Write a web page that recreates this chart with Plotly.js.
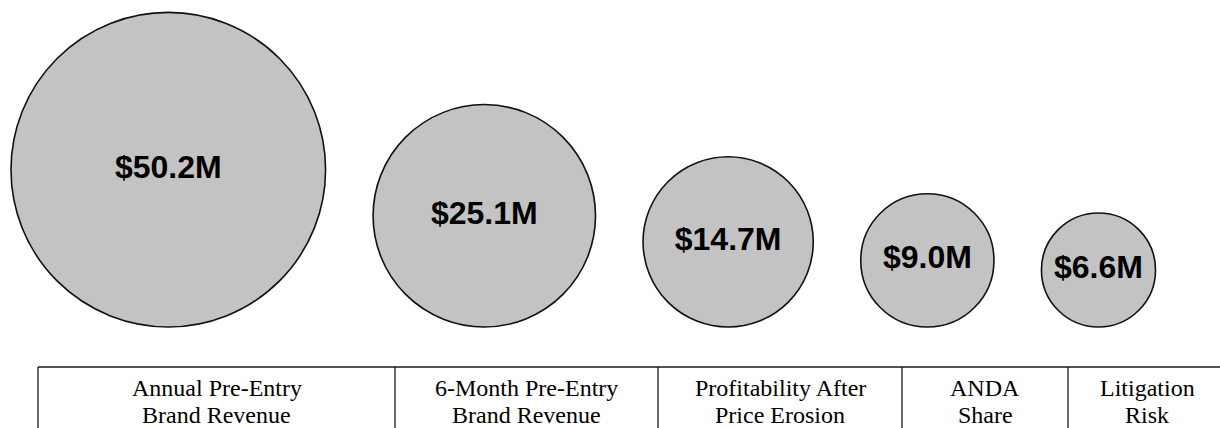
<!DOCTYPE html>
<html>
<head>
<meta charset="utf-8">
<script src="https://cdn.plot.ly/plotly-3.0.1.min.js"></script>
<style>
  html, body { margin: 0; padding: 0; background: #ffffff; }
  #chart { width: 1220px; height: 428px; }
</style>
</head>
<body>
<div id="chart"></div>
<script>
// ---- data ----
const values = [50.2, 25.1, 14.7, 9.0, 6.6];           // $M
const valueLabels = ["$50.2M", "$25.1M", "$14.7M", "$9.0M", "$6.6M"];
const labelTop = ["Annual Pre-Entry", "6-Month Pre-Entry", "Profitability After", "ANDA", "Litigation"];
const labelBottom = ["Brand Revenue", "Brand Revenue", "Price Erosion", "Share", "Risk"];

// ---- layout constants (pixel-unit axes) ----
const W = 1220, H = 428;
const K = 22.2;            // bubble radius per sqrt($M)
const GAP = 47.5;          // space between neighbouring bubbles
const FIRST_LEFT = 11;     // left edge of first bubble
const BASELINE = 101;      // common bottom of the bubbles
const columnEdges = [38, 395, 658, 902, 1068, 1226];
const TABLE_TOP = 61;
const LINE1_Y = 40, LINE2_Y = 13;

// bubble centres derived from the values (area-proportional, bottom aligned, packed)
const radii = values.map(v => K * Math.sqrt(v));
const xs = [];
radii.forEach((r, i) => {
  if (i === 0) xs.push(FIRST_LEFT + r);
  else xs.push(xs[i - 1] + radii[i - 1] + GAP + r);
});
const ys = radii.map(r => BASELINE + r);

const bubbles = {
  type: "scatter",
  mode: "markers+text",
  x: xs,
  y: ys,
  text: valueLabels,
  textposition: "middle center",
  textfont: { family: "Liberation Sans, Arial, sans-serif", size: 32, color: "#000000", weight: 700 },
  marker: {
    size: values,
    sizemode: "area",
    sizeref: 1 / (2 * K * K),
    opacity: 1,
    color: "#c3c3c3",
    line: { color: "#111111", width: 1.6 }
  },
  hoverinfo: "skip",
  cliponaxis: false
};

const shapes = [{
  type: "line", xref: "x", yref: "y",
  x0: columnEdges[0], x1: W, y0: TABLE_TOP, y1: TABLE_TOP,
  line: { color: "#1a1a1a", width: 1.6 }
}];
columnEdges.forEach(xe => {
  shapes.push({
    type: "line", xref: "x", yref: "y",
    x0: xe, x1: xe, y0: TABLE_TOP, y1: -5,
    line: { color: "#1a1a1a", width: 1.3 }
  });
});

const annotations = [];
labelTop.forEach((t, i) => {
  const cx = (columnEdges[i] + columnEdges[i + 1]) / 2;
  annotations.push({ x: cx, y: LINE1_Y, xref: "x", yref: "y", text: t, showarrow: false,
    font: { family: "Liberation Serif, Times New Roman, serif", size: 24, color: "#000000" } });
  annotations.push({ x: cx, y: LINE2_Y, xref: "x", yref: "y", text: labelBottom[i], showarrow: false,
    font: { family: "Liberation Serif, Times New Roman, serif", size: 24, color: "#000000" } });
});

const layout = {
  width: W, height: H,
  margin: { l: 0, r: 0, t: 0, b: 0, pad: 0 },
  paper_bgcolor: "#ffffff",
  plot_bgcolor: "#ffffff",
  showlegend: false,
  xaxis: { range: [0, W], visible: false, fixedrange: true },
  yaxis: { range: [0, H], visible: false, fixedrange: true },
  shapes: shapes,
  annotations: annotations
};

Plotly.newPlot("chart", [bubbles], layout, { displayModeBar: false, staticPlot: true });
</script>
</body>
</html>
